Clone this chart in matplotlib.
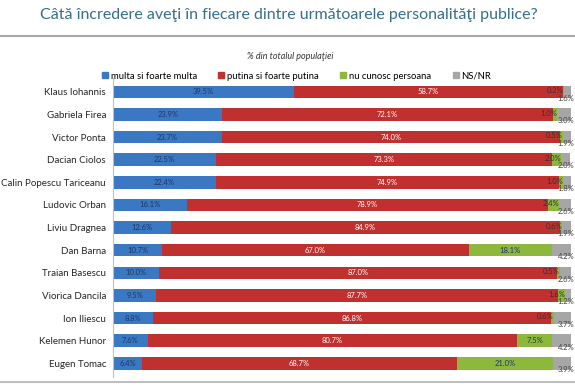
import numpy as np
import matplotlib
matplotlib.use("Agg")
import matplotlib.pyplot as plt
from matplotlib.lines import Line2D

plt.rcParams['font.family'] = ['Lato', 'DejaVu Sans']

names = ['Klaus Iohannis', 'Gabriela Firea', 'Victor Ponta', 'Dacian Ciolos',
         'Calin Popescu Tariceanu', 'Ludovic Orban', 'Liviu Dragnea', 'Dan Barna',
         'Traian Basescu', 'Viorica Dancila', 'Ion Iliescu', 'Kelemen Hunor',
         'Eugen Tomac']
multa = [39.5, 23.9, 23.7, 22.5, 22.4, 16.1, 12.6, 10.7, 10.0, 9.5, 8.8, 7.6, 6.4]
putina = [58.7, 72.1, 74.0, 73.3, 74.9, 78.9, 84.9, 67.0, 87.0, 87.7, 86.8, 80.7, 68.7]
nu_cunosc = [0.2, 1.0, 0.5, 2.0, 1.0, 2.4, 0.6, 18.1, 0.5, 1.6, 0.6, 7.5, 21.0]
ns_nr = [1.6, 3.0, 1.9, 2.0, 1.8, 2.6, 1.9, 4.2, 2.6, 1.2, 3.7, 4.2, 3.9]

series = ['multa si foarte multa', 'putina si foarte putina', 'nu cunosc persoana', 'NS/NR']
colors = ['#3A78C4', '#C0302E', '#8DB83C', '#A6A6A6']

fig = plt.figure(figsize=(5.75, 3.87), dpi=100)
ax = fig.add_axes([0.1965, 0.026, 0.7965, 0.772])

y = np.arange(len(names))
data = [np.array(multa), np.array(putina), np.array(nu_cunosc), np.array(ns_nr)]
left = np.zeros(len(names))
for vals, c in zip(data, colors):
    ax.barh(y, vals, left=left, height=0.55, color=c)
    left = left + vals

# value labels
left = np.zeros(len(names))
for k, vals in enumerate(data):
    for i, v in enumerate(vals):
        cx = left[i] + v / 2
        txt = f'{v:.1f}%'
        if k == 0:
            ax.text(cx, i, txt, ha='center', va='center', fontsize=5.5, color='#1F3864')
        elif k == 1:
            ax.text(cx, i, txt, ha='center', va='center', fontsize=5.5, color='white')
        elif k == 2:
            if v >= 5:
                ax.text(cx, i, txt, ha='center', va='center', fontsize=5.5, color='#1F3864')
            else:
                ax.text(left[i] + v, i - 0.05, txt, ha='right', va='center', fontsize=5.5,
                        color='#333333')
        else:
            ax.text(100.7, i + 0.28, txt, ha='right', va='center', fontsize=5.5,
                    color='#444444', clip_on=False)
    left = left + vals

ax.set_xlim(0, 100)
ax.set_ylim(len(names) - 0.4, -0.6)
ax.set_yticks(y)
ax.set_yticklabels(names, fontsize=7, color='#262626')
ax.set_xticks([])
for s in ['top', 'right', 'bottom']:
    ax.spines[s].set_visible(False)
ax.spines['left'].set_color('#BFBFBF')
ax.tick_params(axis='y', length=0, pad=5)

fig.text(0.503, 0.962, 'Câtă încredere aveţi în fiecare dintre următoarele personalităţi publice?',
         ha='center', va='center', fontsize=11.5, color='#34708C')
fig.add_artist(Line2D([0, 1], [0.907, 0.907], color='#A6A6A6', lw=1.5))
fig.add_artist(Line2D([0, 1], [0.013, 0.013], color='#BFBFBF', lw=1.5))
fig.text(0.505, 0.853, '% din totalul populaţiei', ha='center', va='center',
         fontsize=6.5, style='italic', color='#333333')

handles = [Line2D([0], [0], marker='s', ls='', color=c, markersize=4.5) for c in colors]
fig.legend(handles, series, loc='center', bbox_to_anchor=(0.515, 0.803), ncol=4,
           frameon=False, fontsize=6.8, handletextpad=0.2, columnspacing=2.2,
           handlelength=0.8)

fig.savefig('out.png', dpi=100)
